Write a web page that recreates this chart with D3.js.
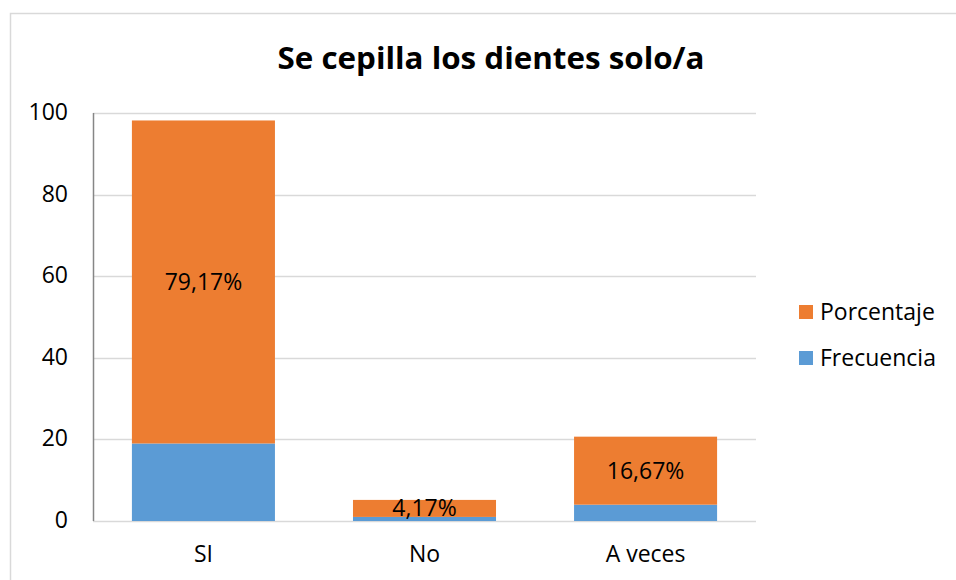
<!DOCTYPE html>
<html>
<head>
<meta charset="utf-8">
<script src="https://cdn.jsdelivr.net/npm/d3@7"></script>
<style>
  body { margin: 0; background: #fff; }
  text { font-family: "Open Sans", Lato, sans-serif; fill: #000; }
</style>
</head>
<body>
<div id="chart"></div>
<script>
var svgWidth = 956;
var svgHeight = 580;

var margin = { top: 113, right: 200, bottom: 59, left: 93 };
var width = svgWidth - margin.left - margin.right;
var height = svgHeight - margin.top - margin.bottom;

// data
var categories = ["SI", "No", "A veces"];
var frecuencia = [19, 1, 4];
var porcentaje = [79.17, 4.17, 16.67];
var pctLabels = ["79,17%", "4,17%", "16,67%"];
var yTicks = [0, 20, 40, 60, 80, 100];
var seriesNames = ["Porcentaje", "Frecuencia"];
var colors = { Frecuencia: "#5B9BD5", Porcentaje: "#ED7D31" };

var fontSize = 23;

var svg = d3.select("#chart")
  .append("svg")
  .attr("width", svgWidth)
  .attr("height", svgHeight);

// chart border (only top and left visible)
svg.append("path")
  .attr("d", "M10.5," + svgHeight + "V13.5H" + svgWidth)
  .attr("fill", "none")
  .attr("stroke", "#d9d9d9")
  .attr("stroke-width", 1.5);

svg.append("text")
  .attr("x", 491)
  .attr("y", 69)
  .attr("text-anchor", "middle")
  .attr("font-size", 30)
  .attr("font-weight", "bold")
  .attr("textLength", 427)
  .attr("lengthAdjust", "spacingAndGlyphs")
  .text("Se cepilla los dientes solo/a");

var chartGroup = svg.append("g")
  .attr("transform", `translate(${margin.left}, ${margin.top})`);

var xScale = d3.scaleBand()
  .domain(categories)
  .range([0, width])
  .paddingInner(0.353)
  .paddingOuter(0.176);

var yScale = d3.scaleLinear()
  .domain([0, 100])
  .range([height, 0]);

// gridlines
chartGroup.append("g")
  .selectAll("line")
  .data(yTicks)
  .enter()
  .append("line")
  .attr("x1", 0)
  .attr("x2", width)
  .attr("y1", d => Math.round(yScale(d)) + 0.5)
  .attr("y2", d => Math.round(yScale(d)) + 0.5)
  .attr("stroke", "#d9d9d9")
  .attr("stroke-width", 1.5);

var leftAxis = d3.axisLeft(yScale).tickValues(yTicks).tickSize(0).tickPadding(25);
var yAxis = chartGroup.append("g").call(leftAxis);
yAxis.select(".domain").remove();
yAxis.selectAll("text").attr("font-size", fontSize).attr("font-family", "'Open Sans', sans-serif")
  .attr("dy", "0.28em");

var bottomAxis = d3.axisBottom(xScale).tickSize(0).tickPadding(25);
var xAxis = chartGroup.append("g")
  .attr("transform", `translate(0, ${height})`)
  .call(bottomAxis);
xAxis.select(".domain").remove();
xAxis.selectAll("text").attr("font-size", fontSize).attr("font-family", "'Open Sans', sans-serif");

// stacked data
var rows = categories.map((c, i) => ({ cat: c, Frecuencia: frecuencia[i], Porcentaje: porcentaje[i], label: pctLabels[i] }));
var stack = d3.stack().keys(["Frecuencia", "Porcentaje"]);
var stacked = stack(rows);

chartGroup.selectAll(".series")
  .data(stacked)
  .enter()
  .append("g")
  .attr("fill", d => colors[d.key])
  .selectAll("rect")
  .data(d => d)
  .enter()
  .append("rect")
  .attr("x", d => xScale(d.data.cat))
  .attr("width", xScale.bandwidth())
  .attr("y", d => yScale(d[1]))
  .attr("height", d => yScale(d[0]) - yScale(d[1]));

// left axis line
chartGroup.append("line")
  .attr("x1", 0.5).attr("x2", 0.5)
  .attr("y1", 0).attr("y2", height)
  .attr("stroke", "#868686")
  .attr("stroke-width", 1.5);

// percentage labels
var pctSeries = stacked[1];
chartGroup.selectAll(".pct")
  .data(pctSeries)
  .enter()
  .append("text")
  .attr("x", d => xScale(d.data.cat) + xScale.bandwidth() / 2)
  .attr("y", d => (yScale(d[0]) + yScale(d[1])) / 2)
  .attr("dy", "0.35em")
  .attr("text-anchor", "middle")
  .attr("font-size", fontSize)
  .text(d => d.data.label);

// legend
var legend = svg.append("g")
  .attr("transform", "translate(799, 312)");

var items = legend.selectAll("g")
  .data(seriesNames)
  .enter()
  .append("g")
  .attr("transform", (d, i) => `translate(0, ${i * 46})`);

items.append("rect")
  .attr("x", 0)
  .attr("y", -7)
  .attr("width", 14)
  .attr("height", 14)
  .attr("fill", d => colors[d]);

items.append("text")
  .attr("x", 21)
  .attr("dy", "0.35em")
  .attr("font-size", fontSize)
  .text(d => d);
</script>
</body>
</html>
